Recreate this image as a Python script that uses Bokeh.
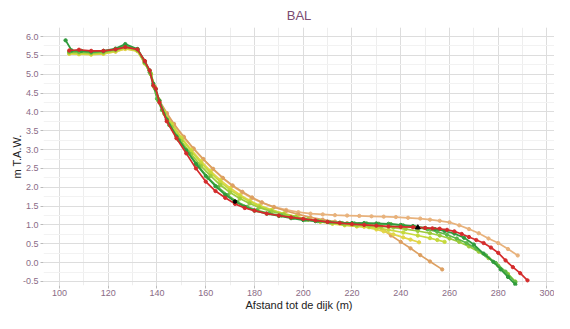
from bokeh.plotting import figure
from bokeh.models import Range1d, SingleIntervalTicker, NumeralTickFormatter
from bokeh.embed import file_html
from bokeh.resources import INLINE

# ---- data ----
x_ticks = [100, 120, 140, 160, 180, 200, 220, 240, 260, 280, 300]

tan_x = [104, 108, 113, 118, 123, 127, 132, 135, 137.5, 139, 141, 144, 147, 151, 155, 159, 163, 167, 171, 175, 179, 183, 188, 193, 198, 203, 208, 213, 218, 223, 228, 233, 238, 243, 248, 252, 256, 260, 264, 268, 272, 276, 280, 284, 288]
tan_y = [5.55, 5.54, 5.53, 5.55, 5.60, 5.68, 5.62, 5.30, 5.00, 4.65, 4.28, 3.95, 3.65, 3.32, 3.02, 2.74, 2.48, 2.24, 2.03, 1.86, 1.71, 1.59, 1.48, 1.40, 1.34, 1.30, 1.28, 1.26, 1.25, 1.24, 1.23, 1.22, 1.21, 1.19, 1.17, 1.14, 1.11, 1.07, 0.99, 0.89, 0.78, 0.64, 0.52, 0.36, 0.19]

orange_x = [104, 108, 113, 118, 123, 127, 132, 135, 137.5, 139, 141, 144, 147, 151, 155, 159, 163, 167, 171, 175, 179, 183, 188, 193, 198, 203, 208, 213, 218, 223, 228, 232, 236, 240, 244, 248, 252, 257]
orange_y = [5.57, 5.56, 5.55, 5.57, 5.62, 5.70, 5.63, 5.30, 5.00, 4.66, 4.30, 3.97, 3.68, 3.34, 3.03, 2.75, 2.49, 2.25, 2.05, 1.88, 1.73, 1.60, 1.47, 1.37, 1.28, 1.20, 1.14, 1.09, 1.05, 1.02, 0.98, 0.92, 0.72, 0.55, 0.38, 0.20, 0.03, -0.18]

yellow_x = [104, 108, 113, 118, 123, 127, 132, 135, 137.5, 139, 140.5, 143, 146, 150, 154, 158, 162, 166, 170, 174, 178, 182, 187, 192, 197, 202, 207, 212, 217, 222, 225, 230, 233, 237, 241, 244, 247.5]
yellow_y = [5.54, 5.53, 5.52, 5.54, 5.60, 5.67, 5.61, 5.28, 5.00, 4.66, 4.32, 3.98, 3.68, 3.32, 3.00, 2.70, 2.43, 2.19, 1.98, 1.80, 1.65, 1.52, 1.40, 1.30, 1.22, 1.14, 1.08, 1.03, 0.99, 0.96, 0.95, 0.88, 0.83, 0.75, 0.67, 0.61, 0.54]

ygreen_x = [104, 108, 113, 118, 123, 127, 132, 135, 137.5, 139, 140.5, 143, 146, 150, 154, 158, 162, 166, 170, 174, 178, 182, 187, 192, 197, 202, 207, 212, 217, 222, 227, 230, 235, 241, 247, 252, 255, 258]
ygreen_y = [5.56, 5.55, 5.54, 5.56, 5.62, 5.70, 5.62, 5.30, 5.02, 4.68, 4.35, 4.00, 3.68, 3.30, 2.96, 2.65, 2.38, 2.14, 1.93, 1.76, 1.62, 1.50, 1.39, 1.30, 1.22, 1.15, 1.09, 1.04, 1.00, 0.97, 0.94, 0.92, 0.87, 0.80, 0.72, 0.65, 0.60, 0.55]

lgreen_x = [104, 108, 113, 118, 123, 127, 132, 135, 137.5, 139, 140.5, 143, 146, 150, 154, 158, 162, 166, 170, 174, 178, 182, 187, 192, 197, 202, 207, 212, 217, 222, 227, 232, 237, 242, 247, 252, 256, 260, 264, 268, 272, 276, 280, 284, 287]
lgreen_y = [5.58, 5.58, 5.56, 5.58, 5.64, 5.72, 5.64, 5.30, 5.00, 4.65, 4.30, 3.95, 3.60, 3.22, 2.88, 2.57, 2.30, 2.06, 1.86, 1.70, 1.57, 1.46, 1.36, 1.28, 1.21, 1.15, 1.10, 1.06, 1.02, 1.00, 0.98, 0.96, 0.93, 0.89, 0.84, 0.78, 0.72, 0.64, 0.55, 0.43, 0.29, 0.12, -0.08, -0.30, -0.50]

mgreen_x = [104, 108, 113, 118, 123, 127, 132, 135, 137, 138.5, 140, 142, 145, 149, 153, 157, 161, 165, 169, 173, 177, 181, 186, 191, 196, 201, 206, 211, 216, 221, 226, 231, 236, 241, 246, 251, 255, 259, 263, 267, 271, 275, 279, 283, 287]
mgreen_y = [5.60, 5.60, 5.58, 5.60, 5.66, 5.76, 5.66, 5.32, 5.05, 4.70, 4.35, 4.05, 3.65, 3.25, 2.90, 2.56, 2.25, 2.00, 1.79, 1.61, 1.48, 1.39, 1.31, 1.25, 1.19, 1.14, 1.10, 1.07, 1.05, 1.04, 1.04, 1.03, 1.02, 0.99, 0.94, 0.88, 0.82, 0.74, 0.64, 0.52, 0.37, 0.19, -0.01, -0.24, -0.52]

dgreen_x = [102.5, 105, 109, 113, 118, 123, 127, 132, 135, 137, 138.5, 139.5, 141, 144, 148, 152, 156, 160, 164, 168, 172, 176, 180, 185, 190, 195, 200, 205, 210, 215, 220, 225, 230, 235, 240, 245, 250, 254, 258, 262, 266, 270, 274, 278, 281, 284, 287]
dgreen_y = [5.90, 5.63, 5.62, 5.60, 5.62, 5.68, 5.80, 5.67, 5.35, 5.10, 4.75, 4.60, 4.30, 3.80, 3.35, 2.98, 2.62, 2.30, 2.03, 1.80, 1.62, 1.48, 1.38, 1.30, 1.24, 1.18, 1.13, 1.10, 1.08, 1.06, 1.05, 1.05, 1.04, 1.03, 1.00, 0.97, 0.92, 0.89, 0.84, 0.77, 0.66, 0.48, 0.24, 0.02, -0.18, -0.38, -0.58]

red_x = [104, 108, 113, 118, 123, 127, 132, 135, 137, 138.5, 139.5, 141, 144, 148, 152, 156, 160, 164, 168, 172, 176, 180, 185, 190, 195, 200, 205, 210, 215, 220, 225, 230, 235, 240, 245, 250, 253, 256, 259, 262, 265, 268, 271, 274, 277, 280, 283, 286, 289, 292]
red_y = [5.63, 5.65, 5.62, 5.62, 5.66, 5.72, 5.66, 5.35, 5.10, 4.70, 4.62, 4.25, 3.75, 3.30, 2.90, 2.50, 2.15, 1.90, 1.72, 1.56, 1.45, 1.38, 1.30, 1.25, 1.20, 1.16, 1.12, 1.08, 1.05, 1.02, 1.00, 0.98, 0.96, 0.95, 0.94, 0.92, 0.91, 0.90, 0.87, 0.83, 0.76, 0.68, 0.60, 0.52, 0.40, 0.26, 0.06, -0.12, -0.28, -0.47]

black_x = [172, 247]
black_y = [1.62, 0.93]

series = [
    (tan_x, tan_y, "#e8b27c"),
    (orange_x, orange_y, "#dda062"),
    (yellow_x, yellow_y, "#e2d548"),
    (ygreen_x, ygreen_y, "#c6d93c"),
    (lgreen_x, lgreen_y, "#9ccb3c"),
    (mgreen_x, mgreen_y, "#5cb846"),
    (dgreen_x, dgreen_y, "#2f9a3c"),
    (red_x, red_y, "#d42b2b"),
]

FONT = "Liberation Sans"
LABEL_COL = "#8a6b86"

p = figure(width=554, height=313, output_backend="svg", toolbar_location=None,
           x_range=Range1d(93.44, 303.08), y_range=Range1d(-0.607, 6.24),
           title="BAL", min_border_left=43, min_border_right=0,
           min_border_top=0, min_border_bottom=28)
p.outline_line_color = None
p.background_fill_color = "white"

p.title.align = "center"
p.title.text_font = FONT
p.title.text_font_size = "13px"
p.title.text_font_style = "normal"
p.title.text_color = "#7b4b72"

for xs, ys, c in series:
    p.line(xs, ys, line_color=c, line_width=1.7)
    p.scatter(xs, ys, size=3.3, fill_color=c, line_color=c)

p.scatter(black_x[:1], black_y[:1], size=3.5, color="black")
p.scatter(black_x[1:], black_y[1:], marker="triangle", size=5, color="black")

p.xaxis.ticker = SingleIntervalTicker(interval=20, num_minor_ticks=2)
p.yaxis.ticker = SingleIntervalTicker(interval=0.5, num_minor_ticks=2)
p.yaxis.formatter = NumeralTickFormatter(format="0.0")

for ax in (p.xaxis, p.yaxis):
    ax.axis_line_color = None
    ax.major_tick_line_color = "#bbbbbb"
    ax.major_tick_out = 3
    ax.major_tick_in = 0
    ax.minor_tick_out = 0
    ax.minor_tick_in = 0
    ax.major_label_text_font = FONT
    ax.major_label_text_font_size = "9px"
    ax.major_label_text_color = LABEL_COL
    ax.axis_label_text_font = FONT
    ax.axis_label_text_font_size = "11px"
    ax.axis_label_text_font_style = "normal"
    ax.axis_label_text_color = "#222222"

p.xaxis.major_label_standoff = 1
p.xaxis.axis_label_standoff = 0
p.yaxis.major_label_standoff = 2
p.yaxis.axis_label_standoff = -3

p.xaxis.axis_label = "Afstand tot de dijk (m)"
p.yaxis.axis_label = "m T.A.W."

p.xgrid.grid_line_color = "#dddddd"
p.ygrid.grid_line_color = "#dddddd"
p.xgrid.minor_grid_line_color = "#eeeeee"
p.ygrid.minor_grid_line_color = "#f2f2f2"

open("out.html", "w").write(file_html(p, INLINE))
